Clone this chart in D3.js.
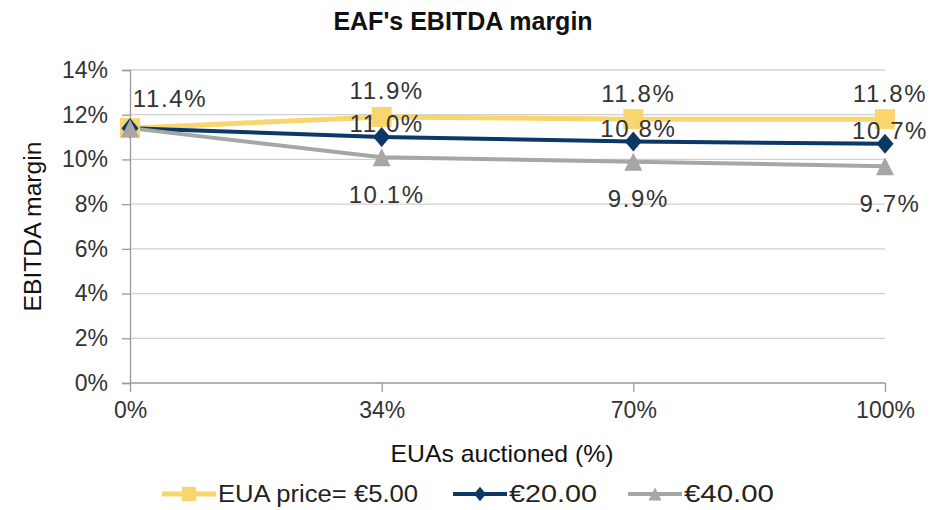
<!DOCTYPE html>
<html>
<head>
<meta charset="utf-8">
<script src="https://cdn.jsdelivr.net/npm/d3@7"></script>
<style>
  body { margin: 0; background: #fff; }
  svg { display: block; }
</style>
</head>
<body>
<div id="chart"></div>
<script>
var width = 946;
var height = 510;

// data
var categories = ["0%", "34%", "70%", "100%"];
var seriesNames = ["EUA price= €5.00", "€20.00", "€40.00"];
var eur5 = [11.4, 11.9, 11.8, 11.8];
var eur20 = [11.4, 11.0, 10.8, 10.7];
var eur40 = [11.4, 10.1, 9.9, 9.7];
var yTicks = [0, 2, 4, 6, 8, 10, 12, 14];

var colors = ["#F8D66D", "#0B3866", "#A6A6A6"];
var lineW = [5, 4, 4];
// label offset from marker (px) per series
var labelDy = [-26, -13, 37];

// marker shapes (custom so the sizes match the picture)
var squareSym = { draw: function(c, s) { var h = s; c.rect(-h, -h, 2 * h, 2 * h); } };
var diamondSym = { draw: function(c, s) { c.moveTo(0, -s * 1.18); c.lineTo(s, 0); c.lineTo(0, s * 1.18); c.lineTo(-s, 0); c.closePath(); } };
var triangleSym = { draw: function(c, s) { c.moveTo(0, -s); c.lineTo(s, s); c.lineTo(-s, s); c.closePath(); } };
var shapes = [squareSym, diamondSym, triangleSym];
var symSize = [10, 8.5, 9];

var series = [eur5, eur20, eur40].map(function(v, i) {
  return {name: seriesNames[i], values: v, color: colors[i], shape: shapes[i], idx: i};
});

var margin = {left: 130, right: 61, top: 70, bottom: 127};

var svg = d3.select("#chart").append("svg")
  .attr("width", width)
  .attr("height", height);

var x = d3.scalePoint()
  .domain(categories)
  .range([margin.left, width - margin.right]);

var y = d3.scaleLinear()
  .domain([0, 14])
  .range([height - margin.bottom, margin.top]);

var font = "'Liberation Sans', Arial, sans-serif";

// gridlines
svg.append("g")
  .selectAll("line")
  .data(yTicks.slice(1))
  .enter().append("line")
  .attr("x1", margin.left)
  .attr("x2", width - margin.right)
  .attr("y1", function(d) { return y(d); })
  .attr("y2", function(d) { return y(d); })
  .attr("stroke", "#d0d0d0")
  .attr("stroke-width", 1.3);

// y axis
var yAxis = svg.append("g")
  .attr("transform", "translate(" + margin.left + ",0)")
  .call(d3.axisLeft(y).tickValues(yTicks).tickFormat(function(d) { return d + "%"; }).tickSize(8).tickPadding(14));
yAxis.select(".domain").attr("stroke", "#999").attr("stroke-width", 1.3);
yAxis.selectAll(".tick line").attr("stroke", "#999").attr("stroke-width", 1.3);
yAxis.selectAll("text").attr("font-family", font).attr("font-size", 23).attr("fill", "#333");

// x axis
var xAxis = svg.append("g")
  .attr("transform", "translate(0," + y(0) + ")")
  .call(d3.axisBottom(x).tickSize(9).tickPadding(10));
xAxis.select(".domain").attr("stroke", "#999").attr("stroke-width", 1.3).attr("d", "M" + margin.left + ",0H" + (width - margin.right));
xAxis.selectAll(".tick line").attr("stroke", "#999").attr("stroke-width", 1.3);
xAxis.selectAll("text").attr("font-family", font).attr("font-size", 23).attr("fill", "#333");

// lines
var line = d3.line()
  .x(function(d, i) { return x(categories[i]); })
  .y(function(d) { return y(d); });

svg.append("g")
  .selectAll("path")
  .data(series)
  .enter().append("path")
  .attr("d", function(d) { return line(d.values); })
  .attr("fill", "none")
  .attr("stroke", function(d) { return d.color; })
  .attr("stroke-width", function(d) { return lineW[d.idx]; });

// markers
series.forEach(function(s) {
  svg.append("g")
    .selectAll("path")
    .data(s.values)
    .enter().append("path")
    .attr("d", d3.symbol().type(s.shape).size(symSize[s.idx]))
    .attr("transform", function(d, i) {
      return "translate(" + x(categories[i]) + "," + y(d) + ")";
    })
    .attr("fill", s.color);
});

// data labels (at 0% only one label is visible in the picture)
series.forEach(function(s) {
  var pts = s.values.map(function(v, i) { return {v: v, i: i}; })
    .filter(function(p) { return p.i > 0 || s.idx == 0; });
  svg.append("g")
    .selectAll("text")
    .data(pts)
    .enter().append("text")
    .attr("x", function(p) { return p.i == 0 ? x(categories[0]) + 40 : x(categories[p.i]) + 5; })
    .attr("y", function(p) { return y(p.v) + (p.i == 0 ? -30 : labelDy[s.idx]); })
    .attr("dy", "0.35em")
    .attr("text-anchor", "middle")
    .attr("font-family", font)
    .attr("font-size", 24)
    .attr("letter-spacing", 1.6)
    .attr("fill", "#333")
    .text(function(p) { return p.v.toFixed(1) + "%"; });
});

// title
svg.append("text")
  .attr("x", 463)
  .attr("y", 30)
  .attr("text-anchor", "middle")
  .attr("font-family", font)
  .attr("font-weight", "bold")
  .attr("font-size", 25)
  .attr("fill", "#111")
  .text("EAF's EBITDA margin");

// axis titles (condensed in the picture)
svg.append("text")
  .attr("transform", "translate(41," + ((margin.top + y(0)) / 2) + ") rotate(-90)")
  .attr("text-anchor", "middle")
  .attr("font-family", font)
  .attr("font-size", 23)
  .attr("textLength", 170)
  .attr("lengthAdjust", "spacingAndGlyphs")
  .attr("fill", "#111")
  .text("EBITDA margin");

svg.append("text")
  .attr("x", 502)
  .attr("y", 462)
  .attr("text-anchor", "middle")
  .attr("font-family", font)
  .attr("font-size", 24)
  .attr("textLength", 223)
  .attr("lengthAdjust", "spacingAndGlyphs")
  .attr("fill", "#111")
  .text("EUAs auctioned (%)");

// legend
var legendX = [162, 453, 628];
var legendW = [200, 88, 90];
var legend = svg.append("g")
  .selectAll("g")
  .data(series)
  .enter().append("g")
  .attr("transform", function(d, i) { return "translate(" + legendX[i] + ",494)"; });

legend.append("line")
  .attr("x1", 0).attr("x2", 54)
  .attr("stroke", function(d) { return d.color; })
  .attr("stroke-width", function(d) { return lineW[d.idx]; });

legend.append("path")
  .attr("d", function(d) { return d3.symbol().type(d.shape).size(symSize[d.idx] * 0.72)(); })
  .attr("transform", "translate(27,0)")
  .attr("fill", function(d) { return d.color; });

legend.append("text")
  .attr("x", 56)
  .attr("dy", "0.35em")
  .attr("font-family", font)
  .attr("font-size", 23)
  .attr("textLength", function(d) { return legendW[d.idx]; })
  .attr("lengthAdjust", "spacingAndGlyphs")
  .attr("fill", "#222")
  .text(function(d) { return d.name; });
</script>
</body>
</html>
